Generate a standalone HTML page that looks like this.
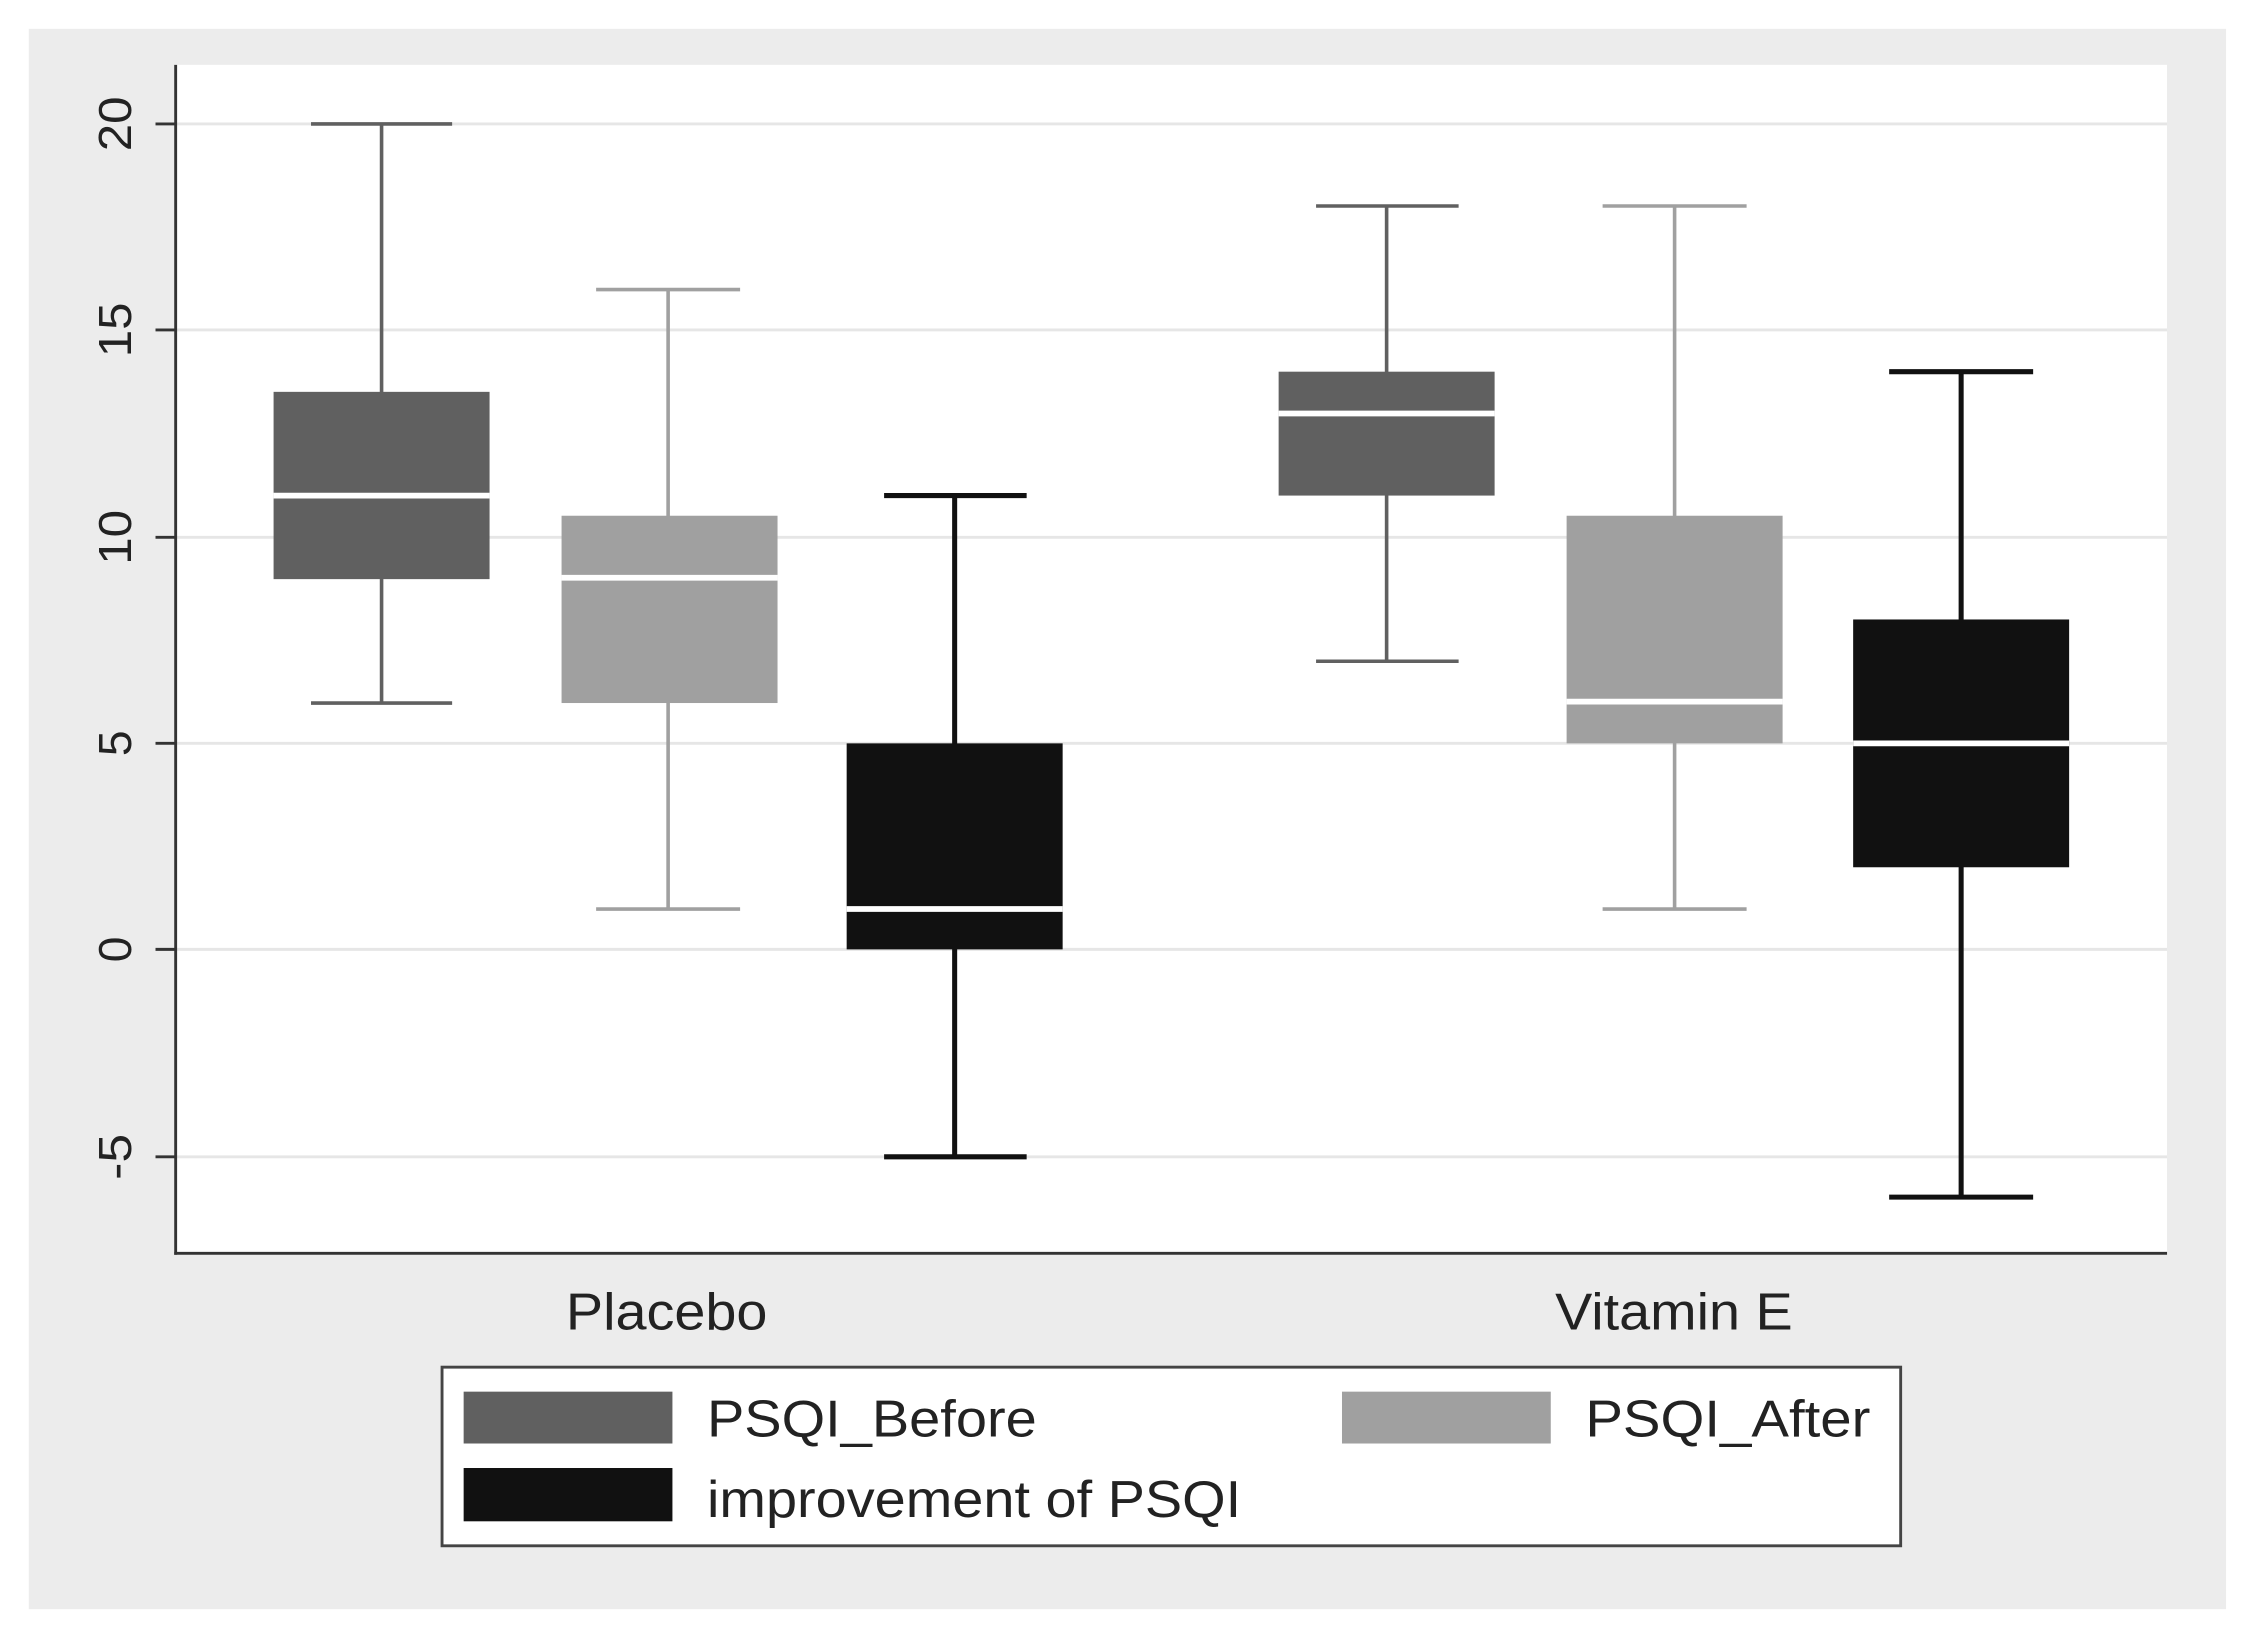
<!DOCTYPE html>
<html><head><meta charset="utf-8"><style>
html,body{margin:0;padding:0;background:#fff;}
svg{display:block;}
text{font-family:"Liberation Sans",sans-serif;fill:#222;}
</style></head><body>
<svg width="2252" height="1638" viewBox="0 0 1564 1137" preserveAspectRatio="none">
<rect x="0" y="0" width="1564" height="1137" fill="#fff"/>
<rect x="20" y="20" width="1526" height="1097" fill="#ececec"/>
<rect x="122" y="45" width="1383" height="825" fill="#fff"/>
<g stroke="#e6e6e6" stroke-width="2">
<line x1="122" x2="1505" y1="86" y2="86"/>
<line x1="122" x2="1505" y1="229" y2="229"/>
<line x1="122" x2="1505" y1="373" y2="373"/>
<line x1="122" x2="1505" y1="516" y2="516"/>
<line x1="122" x2="1505" y1="659" y2="659"/>
<line x1="122" x2="1505" y1="803" y2="803"/>
</g>
<g stroke="#333" stroke-width="2">
<line x1="122" x2="122" y1="45" y2="871"/>
<line x1="121" x2="1505" y1="870" y2="870"/>
<line x1="108" x2="122" y1="86" y2="86"/>
<line x1="108" x2="122" y1="229" y2="229"/>
<line x1="108" x2="122" y1="373" y2="373"/>
<line x1="108" x2="122" y1="516" y2="516"/>
<line x1="108" x2="122" y1="659" y2="659"/>
<line x1="108" x2="122" y1="803" y2="803"/>
</g>
<g font-size="32" text-anchor="middle">
<text transform="translate(91,86) rotate(-90)" textLength="38" lengthAdjust="spacingAndGlyphs">20</text>
<text transform="translate(91,229) rotate(-90)" textLength="38" lengthAdjust="spacingAndGlyphs">15</text>
<text transform="translate(91,373) rotate(-90)" textLength="38" lengthAdjust="spacingAndGlyphs">10</text>
<text transform="translate(91,516) rotate(-90)">5</text>
<text transform="translate(91,659) rotate(-90)">0</text>
<text transform="translate(91,803) rotate(-90)" textLength="32" lengthAdjust="spacingAndGlyphs">-5</text>
</g>
<g stroke="#606060" stroke-width="2.5">
<line x1="265" x2="265" y1="86" y2="488"/><line x1="216" x2="314" y1="86" y2="86"/><line x1="216" x2="314" y1="488" y2="488"/>
</g>
<rect x="190" y="272" width="150" height="130" fill="#606060"/>
<line x1="190" x2="340" y1="344" y2="344" stroke="#fff" stroke-width="4"/>
<g stroke="#a0a0a0" stroke-width="2.5">
<line x1="464" x2="464" y1="201" y2="631"/><line x1="414" x2="514" y1="201" y2="201"/><line x1="414" x2="514" y1="631" y2="631"/>
</g>
<rect x="390" y="358" width="150" height="130" fill="#a0a0a0"/>
<line x1="390" x2="540" y1="401" y2="401" stroke="#fff" stroke-width="4"/>
<g stroke="#111" stroke-width="3.5">
<line x1="663" x2="663" y1="344" y2="803"/><line x1="614" x2="713" y1="344" y2="344"/><line x1="614" x2="713" y1="803" y2="803"/>
</g>
<rect x="588" y="516" width="150" height="143" fill="#111"/>
<line x1="588" x2="738" y1="631" y2="631" stroke="#fff" stroke-width="4"/>
<g stroke="#606060" stroke-width="2.5">
<line x1="963" x2="963" y1="143" y2="459"/><line x1="914" x2="1013" y1="143" y2="143"/><line x1="914" x2="1013" y1="459" y2="459"/>
</g>
<rect x="888" y="258" width="150" height="86" fill="#606060"/>
<line x1="888" x2="1038" y1="287" y2="287" stroke="#fff" stroke-width="4"/>
<g stroke="#a0a0a0" stroke-width="2.5">
<line x1="1163" x2="1163" y1="143" y2="631"/><line x1="1113" x2="1213" y1="143" y2="143"/><line x1="1113" x2="1213" y1="631" y2="631"/>
</g>
<rect x="1088" y="358" width="150" height="158" fill="#a0a0a0"/>
<line x1="1088" x2="1238" y1="487" y2="487" stroke="#fff" stroke-width="4"/>
<g stroke="#111" stroke-width="3.5">
<line x1="1362" x2="1362" y1="258" y2="831"/><line x1="1312" x2="1412" y1="258" y2="258"/><line x1="1312" x2="1412" y1="831" y2="831"/>
</g>
<rect x="1287" y="430" width="150" height="172" fill="#111"/>
<line x1="1287" x2="1437" y1="516" y2="516" stroke="#fff" stroke-width="4"/>
<g font-size="36">
<text x="393" y="923" textLength="140" lengthAdjust="spacingAndGlyphs">Placebo</text>
<text x="1080" y="923" textLength="165" lengthAdjust="spacingAndGlyphs">Vitamin E</text>
</g>
<rect x="307" y="949" width="1013" height="124" fill="#fff" stroke="#444" stroke-width="2"/>
<rect x="322" y="966" width="145" height="36" fill="#606060"/>
<rect x="932" y="966" width="145" height="36" fill="#a0a0a0"/>
<rect x="322" y="1019" width="145" height="37" fill="#111"/>
<g font-size="36">
<text x="491" y="997" textLength="229" lengthAdjust="spacingAndGlyphs">PSQI_Before</text>
<text x="1101" y="997" textLength="198" lengthAdjust="spacingAndGlyphs">PSQI_After</text>
<text x="491" y="1053" textLength="371" lengthAdjust="spacingAndGlyphs">improvement of PSQI</text>
</g>
</svg>
</body></html>
